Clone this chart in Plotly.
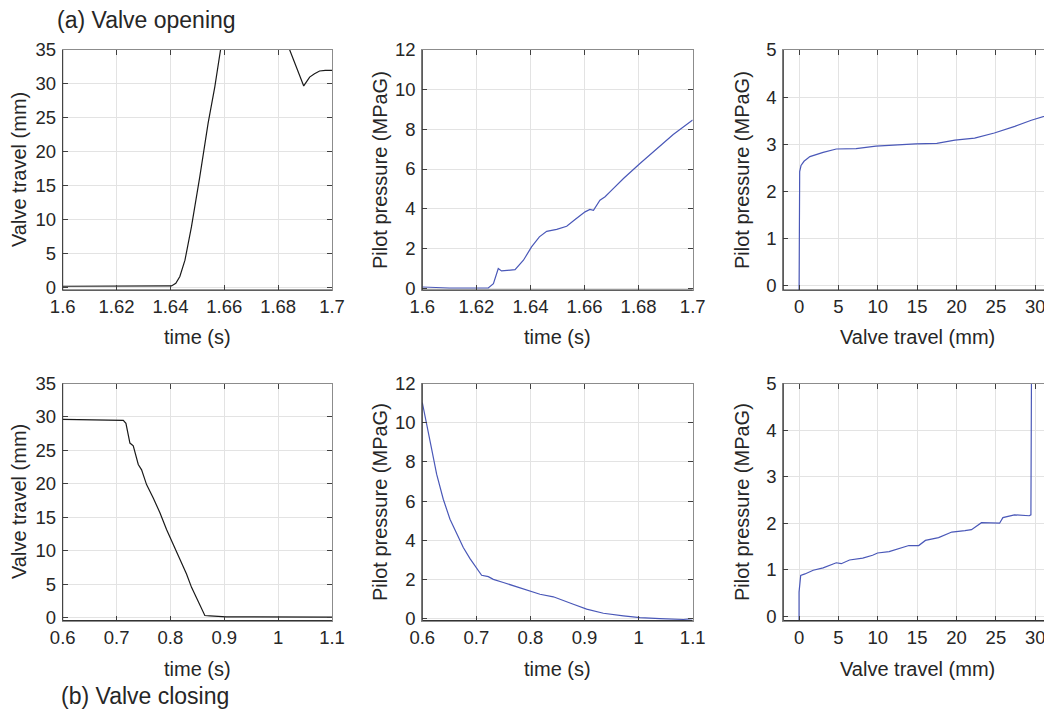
import plotly.graph_objects as go

# ---------------- data ----------------
# (a) Valve opening: valve travel vs time
open_t = [1.600, 1.620, 1.640, 1.6404, 1.6420, 1.6435, 1.6454, 1.6478, 1.6509, 1.6540, 1.6565, 1.6586,
          1.6620, 1.6700, 1.6780, 1.6843, 1.6895, 1.6917, 1.6935, 1.6954, 1.6975, 1.7000]
open_travel = [0.15, 0.15, 0.15, 0.2, 0.6, 1.6, 4.0, 8.9, 16.3, 24.2, 29.6, 35.0,
               38.5, 40.5, 38.5, 35.0, 29.7, 31.0, 31.5, 31.9, 32.0, 32.0]

# (a) Valve opening: pilot pressure vs time
open_pt = [1.600, 1.610, 1.6201, 1.6244, 1.6263, 1.6281, 1.6293, 1.6343, 1.6374, 1.6404, 1.6433,
           1.6460, 1.6497, 1.6534, 1.6565, 1.6602, 1.6620, 1.6633, 1.6657, 1.6676, 1.6694,
           1.6744, 1.6805, 1.6867, 1.6928, 1.7000]
open_pressure = [0.05, 0.0, 0.0, 0.0, 0.22, 0.98, 0.86, 0.93, 1.40, 2.07, 2.58,
                 2.86, 2.96, 3.11, 3.45, 3.84, 3.96, 3.92, 4.43, 4.60, 4.85,
                 5.52, 6.28, 7.04, 7.74, 8.47]

# (a) Valve opening: pilot pressure vs valve travel
open_xy_travel = [0.0, 0.0, 0.03, 0.08, 0.25, 0.63, 1.38, 3.06, 4.73, 7.25, 9.76, 12.27, 14.79, 17.5,
                  19.8, 22.3, 24.8, 27.4, 29.5, 32.0]
open_xy_pressure = [-0.3, 2.10, 2.30, 2.42, 2.55, 2.64, 2.74, 2.83, 2.90, 2.91, 2.96, 2.99, 3.01, 3.02,
                    3.09, 3.13, 3.24, 3.38, 3.51, 3.64]

# (b) Valve closing: valve travel vs time
close_t = [0.600, 0.669, 0.7125, 0.7174, 0.7218, 0.7248, 0.7310, 0.7360, 0.7403, 0.7465, 0.7557,
           0.7681, 0.7805, 0.7928, 0.8052, 0.8175, 0.8299, 0.8392, 0.8515, 0.8639, 0.8732,
           0.9040, 1.1000]
close_travel = [29.65, 29.5, 29.5, 29.06, 27.3, 26.1, 25.7, 24.4, 22.9, 22.1, 19.9,
                17.9, 15.7, 13.2, 11.0, 8.76, 6.53, 4.55, 2.33, 0.35, 0.30,
                0.15, 0.10]

# (b) Valve closing: pilot pressure vs time
close_pt = [0.600, 0.608, 0.6173, 0.6265, 0.6388, 0.6512, 0.6635, 0.6758, 0.6882, 0.7005, 0.7097,
            0.7221, 0.7313, 0.7498, 0.7683, 0.7930, 0.8176, 0.8423, 0.8608, 0.8793, 0.9039,
            0.9348, 0.9718, 1.0026, 1.0396, 1.0827, 1.1000]
close_pressure = [11.03, 10.0, 8.65, 7.37, 6.09, 5.07, 4.31, 3.63, 3.06, 2.60, 2.21,
                  2.14, 2.00, 1.84, 1.67, 1.45, 1.24, 1.11, 0.94, 0.73, 0.48,
                  0.27, 0.14, 0.05, 0.0, -0.05, 0.0]

# (b) Valve closing: pilot pressure vs valve travel
close_xy_travel = [0.0, 0.0, 0.21, 0.75, 1.8, 3.06, 4.73, 5.36, 6.41, 8.09, 9.34, 9.97, 11.44,
                   12.69, 13.95, 15.2, 16.05, 17.72, 19.4, 21.07, 21.9, 23.17, 25.47, 25.89,
                   27.36, 29.24, 29.45, 29.53]
close_xy_pressure = [-0.3, 0.52, 0.88, 0.91, 0.99, 1.04, 1.15, 1.13, 1.21, 1.25, 1.31, 1.36, 1.39,
                     1.45, 1.52, 1.52, 1.63, 1.69, 1.81, 1.84, 1.86, 2.01, 2.00, 2.12,
                     2.18, 2.16, 2.18, 5.6]

time_open_ticks = [1.6, 1.62, 1.64, 1.66, 1.68, 1.7]
time_open_labels = ["1.6", "1.62", "1.64", "1.66", "1.68", "1.7"]
time_close_ticks = [0.6, 0.7, 0.8, 0.9, 1.0, 1.1]
time_close_labels = ["0.6", "0.7", "0.8", "0.9", "1", "1.1"]
travel_ticks = [0, 5, 10, 15, 20, 25, 30]
travel_y_ticks = [0, 5, 10, 15, 20, 25, 30, 35]
press_ticks = [0, 2, 4, 6, 8, 10, 12]
press2_ticks = [0, 1, 2, 3, 4, 5]

# ---------------- layout ----------------
OFF = 8  # page body margin
W, H = 1052 - OFF, 710 - OFF
FONT = "Liberation Sans, Arial, sans-serif"
TXT = "#262626"
BLACK = "#1a1a1a"
BLUE = "#4a58b8"
DARK_AXIS = "#333333"
BOX = "#8c8c8c"

cols_px = [(62.7, 332.0), (422.3, 692.7), (783.3, 1051.0)]
rows_px = [(50.0, 290.0), (383.5, 620.5)]

def px_x(p):
    return (p - OFF) / W

def px_y(p):
    return 1 - (p - OFF) / H

def xd(a, b):
    return [px_x(a), px_x(b)]

def yd(top, bot):
    return [px_y(bot), px_y(top)]

fig = go.Figure()

panels = [
    (0, 0, open_t, open_travel, BLACK, [1.6, 1.7], [-0.4, 35], time_open_ticks, time_open_labels, travel_y_ticks),
    (0, 1, open_pt, open_pressure, BLUE, [1.6, 1.7], [-0.1, 12], time_open_ticks, time_open_labels, press_ticks),
    (0, 2, open_xy_travel, open_xy_pressure, BLUE, [-2, 32], [-0.09, 5], travel_ticks, [str(v) for v in travel_ticks], press2_ticks),
    (1, 0, close_t, close_travel, BLACK, [0.6, 1.1], [-0.4, 35], time_close_ticks, time_close_labels, travel_y_ticks),
    (1, 1, close_pt, close_pressure, BLUE, [0.6, 1.1], [-0.1, 12], time_close_ticks, time_close_labels, press_ticks),
    (1, 2, close_xy_travel, close_xy_pressure, BLUE, [-2, 32], [-0.09, 5], travel_ticks, [str(v) for v in travel_ticks], press2_ticks),
]

axis_common = dict(
    showline=True, linecolor=BOX, linewidth=1, mirror="ticks",
    ticks="inside", ticklen=5, tickcolor="#404040", tickwidth=1,
    showgrid=True, gridcolor="#e3e3e3", gridwidth=1,
    zeroline=False, tickfont=dict(family=FONT, size=18.5, color=TXT),
    automargin=False,
)

shapes = []
for i, (r, c, xs, ys, col, xr, yr, xt, xl, yt) in enumerate(panels):
    n = i + 1
    xa = "x" if n == 1 else f"x{n}"
    ya = "y" if n == 1 else f"y{n}"
    fig.add_trace(go.Scatter(x=xs, y=ys, mode="lines", line=dict(color=col, width=1.2),
                             xaxis=xa, yaxis=ya, showlegend=False, hoverinfo="skip"))
    xkey = "xaxis" if n == 1 else f"xaxis{n}"
    ykey = "yaxis" if n == 1 else f"yaxis{n}"
    fig.layout[xkey] = dict(axis_common, domain=xd(*cols_px[c]), anchor=ya, range=xr,
                            tickvals=xt, ticktext=xl)
    fig.layout[ykey] = dict(axis_common, domain=yd(*rows_px[r]), anchor=xa, range=yr,
                            tickvals=yt, ticklabelstandoff=2)
    # darker left and bottom axis lines (top/right box stays lighter)
    shapes.append(dict(type="line", xref=f"{xa} domain", yref=f"{ya} domain",
                       x0=0, x1=0, y0=0, y1=1, line=dict(color=DARK_AXIS, width=1), layer="above"))
    shapes.append(dict(type="line", xref=f"{xa} domain", yref=f"{ya} domain",
                       x0=0, x1=1, y0=0, y1=0, line=dict(color=DARK_AXIS, width=1), layer="above"))

annotations = []
ytitles = ["Valve travel (mm)", "Pilot pressure (MPaG)", "Pilot pressure (MPaG)"]
ytitle_x = [19, 380, 742]
xtitles = ["time (s)", "time (s)", "Valve travel (mm)"]
xtitle_y = [337, 669]
for r in range(2):
    for c in range(3):
        x0, x1 = cols_px[c]
        t0, t1 = rows_px[r]
        annotations.append(dict(text=xtitles[c], x=px_x((x0 + x1) / 2), y=px_y(xtitle_y[r]),
                                xref="paper", yref="paper", showarrow=False,
                                xanchor="center", yanchor="middle",
                                font=dict(family=FONT, size=20, color=TXT)))
        annotations.append(dict(text=ytitles[c], x=px_x(ytitle_x[c]), y=px_y((t0 + t1) / 2),
                                xref="paper", yref="paper", showarrow=False, textangle=-90,
                                xanchor="center", yanchor="middle",
                                font=dict(family=FONT, size=20, color=TXT)))

annotations.append(dict(text="(a) Valve opening", x=px_x(55), y=px_y(20), xref="paper", yref="paper",
                        showarrow=False, xanchor="left", yanchor="middle",
                        font=dict(family=FONT, size=23, color=TXT)))
annotations.append(dict(text="(b) Valve closing", x=px_x(60), y=px_y(709.5), xref="paper", yref="paper",
                        showarrow=False, xanchor="left", yanchor="bottom", borderpad=0,
                        font=dict(family=FONT, size=23, color=TXT)))

fig.update_layout(
    width=W, height=H, margin=dict(l=0, r=0, t=0, b=0),
    paper_bgcolor="white", plot_bgcolor="white",
    annotations=annotations, shapes=shapes,
)

fig.write_html("out.html")
